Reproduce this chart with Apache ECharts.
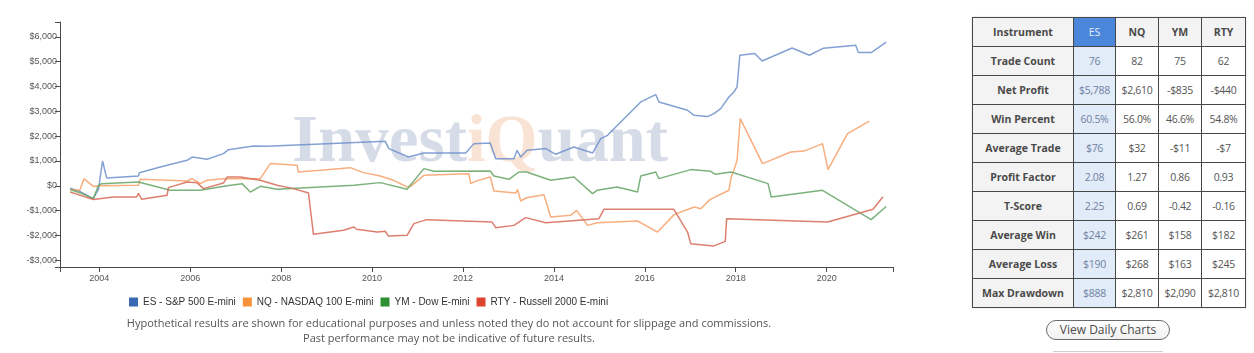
<!DOCTYPE html>
<html>
<head>
<meta charset="utf-8">
<script src="https://cdn.jsdelivr.net/npm/echarts@6/dist/echarts.min.js"></script>
<style>
  html, body { margin: 0; padding: 0; background: #ffffff; width: 1254px; height: 353px; overflow: hidden; }
  #chart { position: absolute; left: 0; top: 0; width: 940px; height: 353px; }
  #stats { position: absolute; left: 972px; top: 17px; border-collapse: collapse; table-layout: fixed;
           font-family: "Open Sans", "Noto Sans", sans-serif; font-size: 10.5px; color: #555;
           border: 1px solid #7a7a7a; box-shadow: 0 0 2px rgba(0,0,0,0.15); }
  #stats td { border: 1px solid #474747; height: 28px; padding: 0; text-align: center; white-space: nowrap;
              letter-spacing: -0.3px; background: #ffffff; }
  #stats td.lab { background: #f3f3f3; font-weight: bold; color: #4a4a4a; font-size: 10.5px; letter-spacing: 0; }
  #stats tr.head td { background: #f3f3f3; font-weight: bold; color: #4a4a4a; letter-spacing: 0; }
  #stats tr.head td.es { background: #4a86d9; color: #e6eefb; font-weight: normal; }
  #stats td.es { background: #e2ebf8; color: #6f81a3; }
  #btn { position: absolute; left: 1046px; top: 320px; width: 122px; height: 18px; border: 1.5px solid #6a6a6a;
         border-radius: 11px; background: linear-gradient(#ffffff, #f1f1f1); text-align: center;
         font-family: "Open Sans", "Noto Sans", sans-serif; font-size: 12px; line-height: 18px; color: #4a4a4a; }
  #btn2 { position: absolute; left: 1053px; top: 351px; width: 110px; height: 6px; border-top: 1px solid #cfcfcf; }
</style>
</head>
<body>
<div id="chart"></div>
<table id="stats"></table>
<div id="btn">View Daily Charts</div>
<div id="btn2"></div>
<script>
// ---- chart data ----
const seriesNames = ['ES - S&P 500 E-mini', 'NQ - NASDAQ 100 E-mini', 'YM - Dow E-mini', 'RTY - Russell 2000 E-mini'];
const yearTicks = [2004, 2006, 2008, 2010, 2012, 2014, 2016, 2018, 2020];
const valueTicks = [-3000, -2000, -1000, 0, 1000, 2000, 3000, 4000, 5000, 6000];

const esData = [[2003.36,-100],[2003.6,-250],[2003.86,-515],[2003.98,-150],[2004.07,1000],[2004.16,318],[2004.86,395],[2004.88,530],[2005.34,760],[2005.93,1028],[2006.04,1160],[2006.37,1068],[2006.73,1297],[2006.84,1458],[2007.39,1604],[2007.68,1590],[2009.0,1700],[2010.29,1793],[2010.37,1499],[2010.8,1160],[2011.14,1322],[2012.06,1322],[2012.24,1700],[2012.6,1725],[2012.72,1095],[2013.12,1095],[2013.19,1430],[2013.27,1160],[2013.41,1430],[2013.82,1500],[2014.04,1270],[2014.44,1565],[2014.85,1322],[2015.03,1900],[2015.18,2035],[2015.91,3380],[2016.24,3675],[2016.31,3380],[2016.94,3045],[2017.08,2840],[2017.38,2790],[2017.52,2910],[2017.67,3110],[2017.85,3580],[2017.96,3780],[2018.03,3986],[2018.09,5260],[2018.42,5330],[2018.58,5030],[2019.24,5555],[2019.62,5260],[2019.93,5545],[2020.64,5660],[2020.7,5368],[2020.98,5368],[2021.31,5788]];

const nqData = [[2003.36,-150],[2003.57,-180],[2003.66,290],[2003.87,-30],[2004.0,0],[2004.86,20],[2004.9,262],[2005.93,194],[2006.04,290],[2006.22,88],[2006.37,225],[2006.73,290],[2007.54,290],[2007.76,895],[2008.35,826],[2008.38,557],[2008.86,625],[2009.52,733],[2009.81,532],[2010.18,395],[2010.47,222],[2010.77,-44],[2010.85,-20],[2011.14,423],[2012.13,491],[2012.17,88],[2012.3,200],[2012.6,355],[2012.68,-210],[2013.16,-290],[2013.2,-150],[2013.27,-612],[2013.4,-480],[2013.78,-357],[2013.93,-1257],[2014.37,-1190],[2014.5,-987],[2014.74,-1593],[2014.95,-1485],[2015.84,-1418],[2016.28,-1862],[2016.65,-1150],[2017.09,-853],[2017.23,-920],[2017.43,-557],[2017.85,-180],[2017.9,355],[2017.96,625],[2018.03,1028],[2018.1,2708],[2018.59,895],[2019.21,1362],[2019.5,1400],[2019.91,1700],[2020.03,653],[2020.46,2103],[2020.94,2610]];

const ymData = [[2003.36,-150],[2003.6,-300],[2003.87,-515],[2003.98,20],[2004.05,88],[2004.86,153],[2004.9,100],[2005.56,-180],[2006.22,-180],[2006.81,0],[2007.14,88],[2007.32,-250],[2007.54,-20],[2007.91,-140],[2009.6,20],[2010.18,129],[2010.77,-140],[2011.14,693],[2011.36,584],[2012.6,596],[2012.68,395],[2013.01,262],[2013.23,557],[2013.4,557],[2013.93,222],[2014.44,355],[2014.85,-315],[2014.95,-180],[2015.39,-44],[2015.84,-250],[2015.91,395],[2016.24,557],[2016.31,290],[2017.01,653],[2017.45,584],[2017.55,463],[2017.9,557],[2018.71,88],[2018.78,-450],[2019.91,-180],[2020.98,-1362],[2021.31,-835]];

const rtyData = [[2003.36,-250],[2003.87,-555],[2004.31,-450],[2004.82,-450],[2004.86,-300],[2004.93,-545],[2005.49,-383],[2005.52,-72],[2005.93,153],[2006.15,120],[2006.29,-113],[2006.73,113],[2006.81,355],[2007.1,355],[2007.54,222],[2007.91,20],[2008.27,-113],[2008.6,-290],[2008.71,-1955],[2009.37,-1793],[2009.6,-1660],[2009.66,-1750],[2010.11,-1860],[2010.29,-1830],[2010.36,-2023],[2010.77,-1995],[2010.92,-1523],[2011.2,-1362],[2012.64,-1459],[2012.72,-1684],[2013.12,-1593],[2013.38,-1280],[2013.82,-1485],[2014.99,-1322],[2015.1,-947],[2016.64,-947],[2016.94,-1862],[2017.01,-2330],[2017.52,-2420],[2017.77,-2237],[2017.8,-1322],[2020.02,-1459],[2021.02,-947],[2021.24,-440]];

// ---- table data ----
const tableInstruments = ['ES', 'NQ', 'YM', 'RTY'];
const tableRowLabels = ['Trade Count', 'Net Profit', 'Win Percent', 'Average Trade', 'Profit Factor', 'T-Score', 'Average Win', 'Average Loss', 'Max Drawdown'];
const tradeCount = ['76', '82', '75', '62'];
const netProfit = ['$5,788', '$2,610', '-$835', '-$440'];
const winPercent = ['60.5%', '56.0%', '46.6%', '54.8%'];
const averageTrade = ['$76', '$32', '-$11', '-$7'];
const profitFactor = ['2.08', '1.27', '0.86', '0.93'];
const tScore = ['2.25', '0.69', '-0.42', '-0.16'];
const averageWin = ['$242', '$261', '$158', '$182'];
const averageLoss = ['$190', '$268', '$163', '$245'];
const maxDrawdown = ['$888', '$2,810', '$2,090', '$2,810'];

const footnote1 = 'Hypothetical results are shown for educational purposes and unless noted they do not account for slippage and commissions.';
const footnote2 = 'Past performance may not be indicative of future results.';

// ---- build table ----
(function () {
  const rows = [tradeCount, netProfit, winPercent, averageTrade, profitFactor, tScore, averageWin, averageLoss, maxDrawdown];
  const widths = [101, 42, 43, 43, 44];
  let html = '<colgroup>' + widths.map(w => '<col style="width:' + w + 'px">').join('') + '</colgroup>';
  html += '<tr class="head"><td class="lab">Instrument</td>' +
    tableInstruments.map((s, i) => '<td' + (i === 0 ? ' class="es"' : '') + '>' + s + '</td>').join('') + '</tr>';
  rows.forEach((r, ri) => {
    html += '<tr><td class="lab">' + tableRowLabels[ri] + '</td>' +
      r.map((v, i) => '<td' + (i === 0 ? ' class="es"' : '') + '>' + v + '</td>').join('') + '</tr>';
  });
  document.getElementById('stats').innerHTML = html;
})();

// ---- chart ----
const legendColors = ['#3b68b3', '#f7923a', '#2f8f33', '#de4530'];
const lineColors = ['rgba(110,145,205,0.85)', 'rgba(247,160,105,0.85)', 'rgba(100,165,100,0.85)', 'rgba(215,105,85,0.85)'];
const allData = [esData, nqData, ymData, rtyData];

const chart = echarts.init(document.getElementById('chart'), null, { renderer: 'canvas' });
const fmtMoney = v => (v < 0 ? '-$' : '$') + Math.abs(v).toLocaleString('en-US');
const xMin = 2003.134, xMax = 2021.46, yMin = -3270, yMax = 6600;

chart.setOption({
  animation: false,
  color: legendColors,
  grid: { left: 60, right: 940 - 893, top: 22, bottom: 86, containLabel: false },
  legend: {
    left: 124, top: 292, icon: 'rect', itemWidth: 9, itemHeight: 9, itemGap: 7, itemTextGap: 4,
    textStyle: { fontFamily: 'Arial, "Liberation Sans", sans-serif', fontSize: 10, color: '#333' },
    data: seriesNames
  },
  xAxis: {
    type: 'value', min: xMin, max: xMax,
    axisLine: { show: true, onZero: false, lineStyle: { color: '#4a4a4a', width: 1 } },
    axisTick: { show: true, length: 5, lineStyle: { color: '#4a4a4a' }, customValues: [xMin].concat(yearTicks, [xMax]) },
    axisLabel: { customValues: yearTicks, color: '#555', fontSize: 9, fontFamily: 'Arial, sans-serif', margin: 7, formatter: v => String(Math.round(v)) },
    splitLine: { show: false }
  },
  yAxis: {
    type: 'value', min: yMin, max: yMax,
    axisLine: { show: true, onZero: false, lineStyle: { color: '#4a4a4a', width: 1 } },
    axisTick: { show: true, length: 5, lineStyle: { color: '#4a4a4a' }, customValues: [yMin].concat(valueTicks, [yMax]) },
    axisLabel: { customValues: valueTicks, color: '#555', fontSize: 9, fontFamily: 'Arial, sans-serif', margin: 3, formatter: fmtMoney },
    splitLine: { show: false }
  },
  graphic: [
    {
      type: 'text', left: 292, top: 110, z: 0, silent: true,
      style: {
        text: '{a|Invest}{b|iQ}{a|uant}',
        rich: {
          a: { fontFamily: '"Liberation Serif", "DejaVu Serif", serif', fontWeight: 'bold', fontSize: 67, fill: '#d6dce7' },
          b: { fontFamily: '"Liberation Serif", "DejaVu Serif", serif', fontWeight: 'bold', fontSize: 67, fill: '#f9e3d5' }
        }
      }
    },
    {
      type: 'text', x: 449, y: 324, z: 5,
      style: { text: footnote1, align: 'center', verticalAlign: 'middle', fontFamily: '"Open Sans", sans-serif', fontSize: 11, fill: '#555' }
    },
    {
      type: 'text', x: 449, y: 339, z: 5,
      style: { text: footnote2, align: 'center', verticalAlign: 'middle', fontFamily: '"Open Sans", sans-serif', fontSize: 11, fill: '#555' }
    }
  ],
  series: seriesNames.map((name, i) => ({
    name: name, type: 'line', data: allData[i], showSymbol: false, symbol: 'none', z: 3,
    lineStyle: { color: lineColors[i], width: 1.5 },
    itemStyle: { color: legendColors[i] }
  }))
});
</script>
</body>
</html>
